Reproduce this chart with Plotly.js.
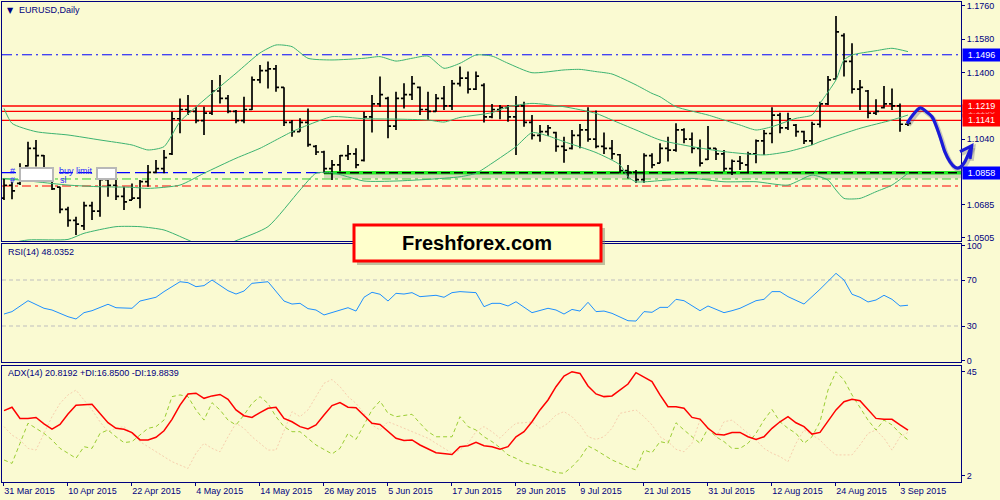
<!DOCTYPE html>
<html>
<head>
<meta charset="utf-8">
<script src="https://cdn.plot.ly/plotly-3.0.1.min.js"></script>
<style>
html,body{margin:0;padding:0;background:#FAFAD2;}
#chart{width:1000px;height:500px;}
</style>
</head>
<body>
<div id="chart"></div>
<script>
// EURUSD daily bars, 31 Mar 2015 .. 4 Sep 2015 (one bar per weekday)
var tickLabels = ['31 Mar 2015','10 Apr 2015','22 Apr 2015','4 May 2015','14 May 2015','26 May 2015',
  '5 Jun 2015','17 Jun 2015','29 Jun 2015','9 Jul 2015','21 Jul 2015','31 Jul 2015',
  '12 Aug 2015','24 Aug 2015','3 Sep 2015'];

var barOpen = [
  1.0720,1.0790,1.0800,1.0895,1.0990,1.0950,1.0850,1.0780,1.0660,1.0600,
  1.0570,1.0680,1.0650,1.0820,1.0790,1.0730,1.0710,1.0720,1.0810,1.0860,
  1.0880,1.0960,1.1150,1.1200,1.1190,1.1140,1.1180,1.1300,1.1260,1.1190,
  1.1140,1.1200,1.1360,1.1410,1.1420,1.1320,1.1130,1.1080,1.1130,1.1000,
  1.0970,1.0880,1.0900,1.0950,1.0960,1.0925,1.1160,1.1230,1.1260,1.1110,
  1.1260,1.1280,1.1320,1.1200,1.1190,1.1260,1.1220,1.1340,1.1370,1.1310,
  1.1330,1.1160,1.1200,1.1210,1.1160,1.1220,1.1130,1.1060,1.1080,1.1075,
  1.1000,1.0990,1.1060,1.1090,1.1040,1.1000,1.0990,1.0955,1.0870,1.0860,
  1.0820,1.0950,1.0910,1.0990,1.0980,1.1090,1.1040,1.0990,1.0930,1.0990,
  1.0960,1.0880,1.0920,1.0900,1.0960,1.1030,1.1070,1.1170,1.1100,1.1115,
  1.1080,1.1030,1.1120,1.1230,1.1365,1.1600,1.1460,1.1310,1.1300,1.1180,
  1.1210,1.1230,1.1220,1.1120];
var barHigh = [
  1.0827,1.0809,1.0909,1.1026,1.1035,1.0954,1.0855,1.0782,1.0674,1.0620,
  1.0701,1.0701,1.0836,1.0845,1.0818,1.0782,1.0800,1.0818,1.0900,1.0927,
  1.0981,1.1188,1.1260,1.1278,1.1215,1.1215,1.1360,1.1387,1.1278,1.1197,
  1.1269,1.1378,1.1441,1.1459,1.1441,1.1320,1.1143,1.1152,1.1206,1.1008,
  1.0977,1.0927,1.0954,1.1008,1.0990,1.1188,1.1278,1.1378,1.1269,1.1296,
  1.1342,1.1381,1.1324,1.1296,1.1284,1.1327,1.1360,1.1432,1.1405,1.1405,
  1.1342,1.1230,1.1224,1.1224,1.1273,1.1242,1.1170,1.1116,1.1116,1.1080,
  1.1053,1.1089,1.1121,1.1212,1.1194,1.1075,1.1035,1.0959,1.0900,1.0873,
  1.0963,1.0963,1.1017,1.1053,1.1125,1.1098,1.1075,1.1038,1.1111,1.0990,
  1.0981,1.0930,1.0948,1.0972,1.1038,1.1089,1.1212,1.1183,1.1183,1.1121,
  1.1085,1.1134,1.1242,1.1381,1.1706,1.1612,1.1558,1.1360,1.1305,1.1255,
  1.1327,1.1314,1.1233,1.1134];
var barLow = [
  1.0710,1.0714,1.0791,1.0891,1.0891,1.0855,1.0764,1.0638,1.0566,1.0521,
  1.0548,1.0602,1.0620,1.0728,1.0710,1.0656,1.0710,1.0665,1.0782,1.0855,
  1.0855,1.0954,1.1071,1.1170,1.1125,1.1062,1.1170,1.1233,1.1179,1.1125,
  1.1125,1.1197,1.1342,1.1314,1.1296,1.1111,1.1053,1.1080,1.0999,1.0954,
  1.0855,1.0818,1.0864,1.0927,1.0882,1.0918,1.1075,1.1215,1.1044,1.1089,
  1.1206,1.1251,1.1170,1.1143,1.1188,1.1197,1.1197,1.1324,1.1287,1.1305,
  1.1129,1.1152,1.1147,1.1134,1.0954,1.1107,1.1038,1.1026,1.1057,1.0972,
  1.0912,1.0984,1.0990,1.1026,1.0990,1.0959,1.0930,1.0855,1.0827,1.0804,
  1.0804,1.0882,1.0909,1.0918,1.0972,1.1017,1.0963,1.0891,1.0927,1.0927,
  1.0864,1.0845,1.0873,1.0855,1.0909,1.0954,1.1017,1.1071,1.1089,1.1053,
  1.1013,1.1008,1.1103,1.1224,1.1363,1.1378,1.1287,1.1197,1.1152,1.1170,
  1.1206,1.1197,1.1080,1.1111];
var barClose = [
  1.0790,1.0760,1.0880,1.0990,1.0950,1.0870,1.0770,1.0660,1.0600,1.0580,
  1.0680,1.0650,1.0820,1.0790,1.0730,1.0700,1.0720,1.0810,1.0860,1.0880,
  1.0940,1.1150,1.1200,1.1190,1.1140,1.1180,1.1300,1.1260,1.1190,1.1140,
  1.1200,1.1360,1.1410,1.1420,1.1320,1.1130,1.1080,1.1130,1.1010,1.0970,
  1.0880,1.0900,1.0950,1.0960,1.0900,1.1160,1.1230,1.1280,1.1110,1.1260,
  1.1280,1.1340,1.1200,1.1190,1.1260,1.1220,1.1340,1.1370,1.1310,1.1380,
  1.1160,1.1200,1.1210,1.1160,1.1220,1.1130,1.1060,1.1080,1.1100,1.1000,
  1.0980,1.1060,1.1090,1.1040,1.1000,1.0990,1.0960,1.0870,1.0860,1.0820,
  1.0950,1.0900,1.0990,1.0980,1.1090,1.1040,1.0990,1.0910,1.0990,1.0960,
  1.0880,1.0920,1.0910,1.0960,1.1030,1.1070,1.1170,1.1100,1.1150,1.1080,
  1.1030,1.1120,1.1230,1.1360,1.1620,1.1460,1.1310,1.1320,1.1180,1.1190,
  1.1230,1.1220,1.1120,1.1125];

// Bollinger bands (20) at these bar numbers
var bbUpperX = [0,1,4,8,12,16,18,20,22,25,29,32,34,36,38,41,45,47,49,51,53,55,57,59,61,63,66,70,72,74,76,79,81,82,84,88,90,92,94,96,99,101,102,104,105,106,109,111,113];
var bbUpper  = [1.1206,1.1125,1.1080,1.1062,1.1035,1.1008,1.0981,1.0999,1.1134,1.1251,1.1396,1.1506,1.1549,1.1540,1.1477,1.1468,1.1477,1.1486,1.1462,1.1477,1.1489,1.1423,1.1450,1.1495,1.1489,1.1450,1.1399,1.1414,1.1417,1.1405,1.1392,1.1333,1.1287,1.1269,1.1215,1.1170,1.1143,1.1116,1.1089,1.1107,1.1152,1.1170,1.1233,1.1360,1.1468,1.1495,1.1518,1.1531,1.1513];
var bbMidX = [0,4,8,12,16,18,22,25,29,32,34,36,38,41,45,49,53,55,57,61,63,66,70,74,76,79,82,86,90,95,98,101,102,107,111,113];
var bbMid  = [1.0827,1.0809,1.0791,1.0782,1.0779,1.0773,1.0791,1.0855,1.0936,1.0990,1.1035,1.1080,1.1116,1.1161,1.1150,1.1148,1.1143,1.1132,1.1157,1.1183,1.1215,1.1233,1.1215,1.1179,1.1143,1.1089,1.1035,1.0999,1.0972,1.0954,1.0972,1.1008,1.1026,1.1098,1.1143,1.1170];
var bbLowX = [0,3,8,10,14,17,20,23,26,29,33,37,39,41,45,49,53,57,59,61,64,66,68,70,74,77,78,79,82,86,90,94,98,101,103,104,105,107,109,111,113];
var bbLow  = [1.0470,1.0494,1.0497,1.0530,1.0566,1.0566,1.0548,1.0494,1.0440,1.0490,1.0566,1.0764,1.0855,1.0858,1.0813,1.0813,1.0822,1.0836,1.0855,1.0909,1.0999,1.1075,1.1057,1.1026,1.0967,1.0900,1.0836,1.0809,1.0815,1.0827,1.0809,1.0809,1.0791,1.0845,1.0818,1.0764,1.0719,1.0719,1.0755,1.0791,1.0855];

// RSI(14)
var rsiX = [0,1,3,5,6,8,9,10,11,13,14,16,17,19,20,22,23,24,25,26,28,29,30,31,33,35,36,37,38,39,40,42,43,44,45,46,47,48,49,50,51,52,53,54,55,56,57,58,59,60,61,62,63,64,66,68,69,70,71,72,73,74,75,76,78,79,80,81,82,83,84,85,87,88,89,90,91,92,94,95,96,97,98,100,102,104,105,106,107,108,109,110,111,112,113];
var rsiVal = [40.4,42.5,52.0,45.4,43.9,38.1,36.1,41.6,43.3,48.9,45.9,45.4,51.7,55.0,59.9,68.5,67.7,64.2,65.1,70.0,60.7,57.8,60.4,67.1,68.5,51.7,49.1,49.7,45.1,43.9,39.6,43.9,45.9,43.0,55.0,59.3,57.6,51.7,58.4,57.8,59.0,55.5,56.1,56.7,55.0,59.0,59.9,59.3,59.0,46.8,49.7,49.7,47.4,51.1,41.6,45.4,43.9,40.4,44.4,43.0,50.6,42.5,43.0,41.0,34.6,34.3,42.5,41.9,46.2,46.2,53.2,52.0,43.3,47.4,44.4,41.6,43.3,45.4,52.0,53.2,59.9,59.9,55.5,49.1,61.9,75.8,70.0,57.6,55.0,50.9,52.6,56.7,53.2,47.4,48.0352];
var rsiLevels = [30, 70];

// ADX(14), +DI, -DI
var adxX = [0,1,2,3,4,5,6,7,8,9,11,12,13,14,15,16,17,18,19,20,21,22,23,24,25,26,27,28,29,30,31,32,33,34,35,36,37,38,39,40,41,42,43,44,45,46,47,48,49,50,51,52,53,54,56,57,58,59,60,61,62,63,64,65,66,67,68,69,70,71,72,73,74,75,76,77,78,79,80,81,82,83,84,85,86,87,88,89,90,91,92,93,94,95,96,97,98,99,100,101,102,103,104,105,106,107,108,109,110,111,112,113];
var adxVal = [28.9,30.3,25.7,25.7,26.1,23.4,21.3,23.2,27.5,31.1,31.5,27.8,23.9,21.6,21.2,19.8,16.8,16.8,17.9,20.6,25.3,31.2,35.8,36.1,34.0,35.0,35.6,33.6,29.2,26.8,26.1,28.1,29.9,30.3,25.7,24.3,22.3,21.3,23.0,27.1,31.0,32.2,30.3,30.1,26.8,23.7,23.2,20.2,17.5,16.6,16.8,14.7,13.0,11.5,10.8,14.0,14.4,15.8,14.4,14.0,13.0,14.0,18.1,20.2,24.3,29.2,33.3,38.8,43.2,45.0,44.3,39.1,35.8,34.7,35.0,37.4,39.9,44.6,42.7,40.9,35.4,30.5,30.5,29.9,26.1,25.4,21.6,19.1,18.8,19.9,19.9,18.1,17.0,18.1,21.6,24.3,26.4,23.9,22.3,19.2,19.9,24.3,29.2,32.6,33.6,33.0,29.2,25.7,25.3,25.3,23.0,20.8192];
var plusDiX = [0,1,2,3,4,5,6,7,8,9,10,11,12,13,14,15,16,17,18,19,20,21,22,23,24,25,26,27,28,29,30,31,32,33,34,35,36,37,38,39,41,42,43,44,45,46,47,48,49,51,52,53,54,56,57,58,59,60,61,62,63,64,65,67,68,69,70,71,72,73,74,75,76,77,78,79,80,81,82,83,84,85,86,87,88,89,90,91,92,93,94,95,96,97,98,99,100,101,102,103,104,105,106,107,108,109,110,111,112,113];
var plusDi = [8.5,7.1,15.4,23.7,21.6,19.5,16.8,13.3,11.3,9.2,14.0,13.3,19.5,20.9,18.1,15.7,16.1,18.8,21.6,22.3,25.0,34.7,35.4,34.7,29.2,25.0,32.2,29.2,25.0,23.0,27.1,31.9,34.7,31.9,26.4,22.3,20.2,20.2,17.5,14.7,11.0,13.3,19.5,17.0,23.0,29.2,32.9,27.8,26.4,27.4,23.7,20.2,18.1,18.1,26.4,22.3,20.9,18.1,16.1,13.6,10.6,9.2,7.4,5.7,4.4,3.3,3.0,5.7,9.2,14.3,12.6,10.6,8.5,7.1,5.5,4.4,12.6,11.5,16.1,15.4,23.9,20.9,18.1,15.4,21.6,18.1,16.1,13.3,13.3,15.4,19.5,25.0,29.4,24.3,21.6,19.5,15.4,18.1,24.3,37.4,45.0,41.6,35.4,29.9,25.0,20.9,25.0,23.0,19.5,16.85];
var minusDiX = [0,1,2,3,4,5,6,7,8,9,10,11,12,13,14,15,16,17,18,19,20,21,22,23,24,25,26,27,28,29,30,31,32,33,34,35,36,37,38,39,40,41,42,43,44,45,46,47,48,49,50,51,52,53,54,55,56,57,58,59,60,61,62,63,64,65,66,67,68,69,70,71,72,73,74,75,76,77,79,80,81,82,83,84,85,86,87,88,89,90,91,92,94,95,96,97,98,99,100,101,102,103,104,106,107,108,109,110,111,112,113];
var minusDi = [22.3,18.8,16.8,13.3,12.6,19.5,26.4,31.9,35.4,37.4,33.3,29.2,24.3,20.2,21.6,22.3,19.5,16.1,14.0,11.9,9.9,7.8,6.4,5.0,11.3,15.4,13.3,11.9,18.1,23.7,21.6,18.1,15.4,12.6,12.6,20.2,28.5,26.4,29.2,34.7,40.2,41.8,38.8,34.7,31.9,27.8,23.0,20.9,24.3,23.0,21.6,20.2,18.8,17.5,15.4,13.3,11.3,12.6,15.4,20.2,22.3,20.2,17.5,20.9,23.7,23.9,24.3,21.6,23.7,27.1,28.5,26.4,23.0,18.1,17.0,18.1,21.6,27.8,29.2,26.4,23.0,18.1,16.1,12.9,11.9,15.4,25.0,22.3,18.1,24.3,25.0,22.3,16.8,13.3,11.3,9.9,7.8,15.4,20.9,18.8,16.8,13.3,10.6,10.6,14.7,19.5,20.9,17.5,12.6,18.1,19.8839];

// horizontal levels drawn on the price window
var pendingLevel = 1.1496;
var resistLevels = [1.1190, 1.1219, 1.1141];
var supportLevel = 1.0858;
var supportStart = 40;
var greenStop = 1.0824;
var redStop = 1.0786;

// hand-drawn forecast arrow (bar number, price)
var arrowIdx   = [112.9,113.6,114.5,115.3,116.0,116.4,117.0,117.6,118.25,118.9,119.5,120.1,120.5,120.96];
var arrowPrice = [1.1125,1.1170,1.1208,1.1188,1.1161,1.1125,1.1053,1.0972,1.0917,1.0887,1.0887,1.0917,1.0954,1.1004];
var arrowHeadIdx = [119.5, 120.96, 120.75];
var arrowHeadPrice = [1.0972, 1.1004, 1.0933];

var priceTicks = [1.1760, 1.1580, 1.1400, 1.1040, 1.0685, 1.0505];

// ---- geometry ----
var NAVY = '#000080';
var BG = '#FAFAD2';
var FONT = 'Liberation Sans, Arial, sans-serif';
var FS = 9;
var xr = [-0.25, 119.625];
var yMain = [1.04884, 1.17816];
var domMain = [0.50208, 1];
var domRsi = [0.25, 0.49583];
var domAdx = [0, 0.24167];
var plotW = 959, plotH = 480, padL = 2, padT = 2;

function pxX(px) { return (px - padL) / plotW; }
function pxY(py) { return (plotH + padT - py) / plotH; }
function idxToPaper(i) { return (i - xr[0]) / (xr[1] - xr[0]); }
function priceToPaper(p) { return domMain[0] + (p - yMain[0]) / (yMain[1] - yMain[0]) * (domMain[1] - domMain[0]); }

function smoothPath(pts) {
  var d = 'M' + pts[0][0] + ',' + pts[0][1];
  for (var k = 0; k < pts.length - 1; k++) {
    var p0 = pts[k - 1] || pts[k], p1 = pts[k], p2 = pts[k + 1], p3 = pts[k + 2] || p2;
    var c1x = p1[0] + (p2[0] - p0[0]) / 6, c1y = p1[1] + (p2[1] - p0[1]) / 6;
    var c2x = p2[0] - (p3[0] - p1[0]) / 6, c2y = p2[1] - (p3[1] - p1[1]) / 6;
    d += ' C' + c1x + ',' + c1y + ' ' + c2x + ',' + c2y + ' ' + p2[0] + ',' + p2[1];
  }
  return d;
}
function linePath(pts) {
  return pts.map(function (p, k) { return (k ? 'L' : 'M') + p[0] + ',' + p[1]; }).join(' ');
}

var barIdx = barOpen.map(function (_, i) { return i; });

var traces = [];
function band(xs, ys) {
  traces.push({type: 'scatter', mode: 'lines', x: xs, y: ys, xaxis: 'x', yaxis: 'y',
    line: {color: '#3CB371', width: 1, shape: 'spline', smoothing: 0.6}, hoverinfo: 'skip'});
}
band(bbUpperX, bbUpper);
band(bbMidX, bbMid);
band(bbLowX, bbLow);

traces.push({
  type: 'ohlc', x: barIdx, open: barOpen, high: barHigh, low: barLow, close: barClose,
  xaxis: 'x', yaxis: 'y', tickwidth: 0.38, hoverinfo: 'skip',
  increasing: {line: {color: '#000000', width: 1.7}},
  decreasing: {line: {color: '#000000', width: 1.7}}
});

traces.push({type: 'scatter', mode: 'lines', x: rsiX, y: rsiVal, xaxis: 'x2', yaxis: 'y2',
  line: {color: '#1E90FF', width: 1}, hoverinfo: 'skip'});

traces.push({type: 'scatter', mode: 'lines', x: minusDiX, y: minusDi, xaxis: 'x3', yaxis: 'y3',
  line: {color: '#F7CFAE', width: 1, dash: '2px,2px'}, hoverinfo: 'skip'});
traces.push({type: 'scatter', mode: 'lines', x: plusDiX, y: plusDi, xaxis: 'x3', yaxis: 'y3',
  line: {color: '#9ACD32', width: 1, dash: '4px,3px'}, hoverinfo: 'skip'});
traces.push({type: 'scatter', mode: 'lines', x: adxX, y: adxVal, xaxis: 'x3', yaxis: 'y3',
  line: {color: '#FF0000', width: 1.5}, hoverinfo: 'skip'});

// ---- shapes ----
var shapes = [];
function hline(y, ref, color, width, dash, x0, x1, xref, opacity) {
  shapes.push({type: 'line', xref: xref || 'paper', yref: ref, x0: x0 === undefined ? 0 : x0, x1: x1 === undefined ? 1 : x1,
    y0: y, y1: y, layer: 'below', opacity: opacity === undefined ? 1 : opacity,
    line: {color: color, width: width, dash: dash || 'solid'}});
}
hline(pendingLevel, 'y', '#0000FF', 1, '10px,4px,2px,4px');
resistLevels.forEach(function (v) { hline(v, 'y', '#FF0000', 1.4); });
hline(greenStop, 'y', '#32CD32', 1, '9px,4px,3px,4px');
hline(redStop, 'y', '#FF0000', 1, '9px,4px,3px,4px');
// support: shadow, thick green, dashes
var pxPerPrice = plotH * (domMain[1] - domMain[0]) / (yMain[1] - yMain[0]);
hline(supportLevel - 3 / pxPerPrice, 'y', '#888888', 5, 'solid', supportStart, xr[1], 'x', 0.3);
hline(supportLevel, 'y', '#22EE22', 3.5, 'solid', supportStart, xr[1], 'x');
hline(supportLevel, 'y', '#000000', 1.5, '9px,4px', supportStart, xr[1], 'x');
hline(supportLevel, 'y', '#0000FF', 1.2, '14px,5px', xr[0], supportStart, 'x');
rsiLevels.forEach(function (v) { hline(v, 'y2', '#BEBEBE', 1, '4px,3px'); });

// order label boxes on the left
function whiteBox(x0, y0, x1, y1) {
  shapes.push({type: 'rect', xref: 'paper', yref: 'paper', x0: pxX(x0 + 1), x1: pxX(x1 + 1), y0: pxY(y0 + 1), y1: pxY(y1 + 1),
    fillcolor: '#8C8C8C', opacity: 0.45, line: {width: 0}, layer: 'above'});
  shapes.push({type: 'rect', xref: 'paper', yref: 'paper', x0: pxX(x0), x1: pxX(x1), y0: pxY(y0), y1: pxY(y1),
    fillcolor: '#FFFFFF', line: {color: '#B8B8B8', width: 2}, layer: 'above'});
}
whiteBox(20, 168, 53, 181);
whiteBox(97, 168, 116, 179);

// banner
shapes.push({type: 'rect', xref: 'paper', yref: 'paper', x0: pxX(357), x1: pxX(605), y0: pxY(228), y1: pxY(265),
  fillcolor: '#7A7A60', opacity: 0.45, line: {width: 0}, layer: 'above'});
shapes.push({type: 'rect', xref: 'paper', yref: 'paper', x0: pxX(354), x1: pxX(601), y0: pxY(225), y1: pxY(261),
  fillcolor: '#FFFFCC', line: {color: '#FF0000', width: 3}, layer: 'above'});

// forecast arrow
var arrowPts = arrowIdx.map(function (v, k) { return [idxToPaper(v), priceToPaper(arrowPrice[k])]; });
var headPts = arrowHeadIdx.map(function (v, k) { return [idxToPaper(v), priceToPaper(arrowHeadPrice[k])]; });
var sdx = 1.5 / plotW, sdy = -2 / plotH;
function shifted(pts) { return pts.map(function (p) { return [p[0] + sdx, p[1] + sdy]; }); }
shapes.push({type: 'path', xref: 'paper', yref: 'paper', path: smoothPath(shifted(arrowPts)), opacity: 0.3, layer: 'above',
  line: {color: '#555577', width: 4.5}});
shapes.push({type: 'path', xref: 'paper', yref: 'paper', path: linePath(shifted(headPts)), opacity: 0.3, layer: 'above',
  line: {color: '#555577', width: 4.5}});
shapes.push({type: 'path', xref: 'paper', yref: 'paper', path: smoothPath(arrowPts), layer: 'above',
  line: {color: '#1A1AD8', width: 3.2}});
shapes.push({type: 'path', xref: 'paper', yref: 'paper', path: linePath(headPts), layer: 'above',
  line: {color: '#1A1AD8', width: 3.2}});

// ---- annotations ----
var ann = [];
function txt(text, px, py, opts) {
  opts = opts || {};
  ann.push({xref: 'paper', yref: 'paper', x: pxX(px), y: pxY(py), text: text, showarrow: false,
    xanchor: opts.xanchor || 'left', yanchor: 'middle',
    font: {family: opts.family || FONT, size: opts.size || FS, color: opts.color || NAVY, weight: opts.weight}});
}
txt('\u25BC', 5, 10, {size: 8, family: 'DejaVu Sans'});
txt('EURUSD,Daily', 17, 10);
txt('RSI(14) 48.0352', 6, 252);
txt('ADX(14) 20.8192 +DI:16.8500 -DI:19.8839', 6, 373);
txt('#', 8, 171, {color: '#2A2AFF'});
txt('buy limit', 57, 171, {color: '#2A2AFF'});
txt('#', 8, 180, {color: '#2A2AFF'});
txt('sl', 58, 180, {color: '#2A2AFF'});
txt('Freshforex.com', 477, 243, {xanchor: 'center', size: 20, color: '#000000', weight: 'bold'});

function priceBox(v, bg) {
  ann.push({xref: 'paper', yref: 'y', x: 1, xshift: 1, xanchor: 'left', y: v, yanchor: 'middle',
    text: v.toFixed(4), showarrow: false, bgcolor: bg, borderpad: 0, width: 37, height: 12, align: 'center',
    font: {family: FONT, size: FS, color: '#FFFFFF'}});
}
priceBox(pendingLevel, '#0000FF');
resistLevels.forEach(function (v) { priceBox(v, '#FF0000'); });
priceBox(supportLevel, '#0000FF');

function axisBase(extra) {
  var a = {showline: true, mirror: true, linecolor: NAVY, linewidth: 1, showgrid: false, zeroline: false,
    fixedrange: true, automargin: false, ticklabeloverflow: 'allow',
    tickfont: {family: FONT, size: FS, color: NAVY}};
  for (var k in extra) a[k] = extra[k];
  return a;
}

var layout = {
  width: 1000, height: 500,
  margin: {l: padL, r: 1000 - padL - plotW, t: padT, b: 500 - padT - plotH},
  paper_bgcolor: BG, plot_bgcolor: BG, showlegend: false,
  font: {family: FONT, size: FS, color: NAVY},
  xaxis: axisBase({anchor: 'y', range: xr, showticklabels: false, ticks: '', rangeslider: {visible: false}}),
  xaxis2: axisBase({anchor: 'y2', range: xr, showticklabels: false, ticks: ''}),
  xaxis3: axisBase({anchor: 'y3', range: xr, tickmode: 'array',
    tickvals: tickLabels.map(function (_, k) { return k * 8 - 0.1; }), ticktext: tickLabels,
    ticks: 'outside', ticklen: 3, tickcolor: NAVY, tickangle: 0, ticklabelposition: 'outside right'}),
  yaxis: axisBase({domain: domMain, range: yMain, side: 'right', tickmode: 'array', tickvals: priceTicks,
    ticktext: priceTicks.map(function (v) { return v.toFixed(4); }), ticks: 'outside', ticklen: 3, tickcolor: NAVY}),
  yaxis2: axisBase({domain: domRsi, range: [-1.3, 101.3], side: 'right', tickmode: 'array', tickvals: [0, 30, 70, 100],
    ticks: 'outside', ticklen: 3, tickcolor: NAVY}),
  yaxis3: axisBase({domain: domAdx, range: [-0.6, 47.36], side: 'right', tickmode: 'array', tickvals: [2, 45],
    ticks: 'outside', ticklen: 3, tickcolor: NAVY}),
  shapes: shapes,
  annotations: ann
};

Plotly.newPlot('chart', traces, layout, {staticPlot: true, displayModeBar: false});
</script>
</body>
</html>
